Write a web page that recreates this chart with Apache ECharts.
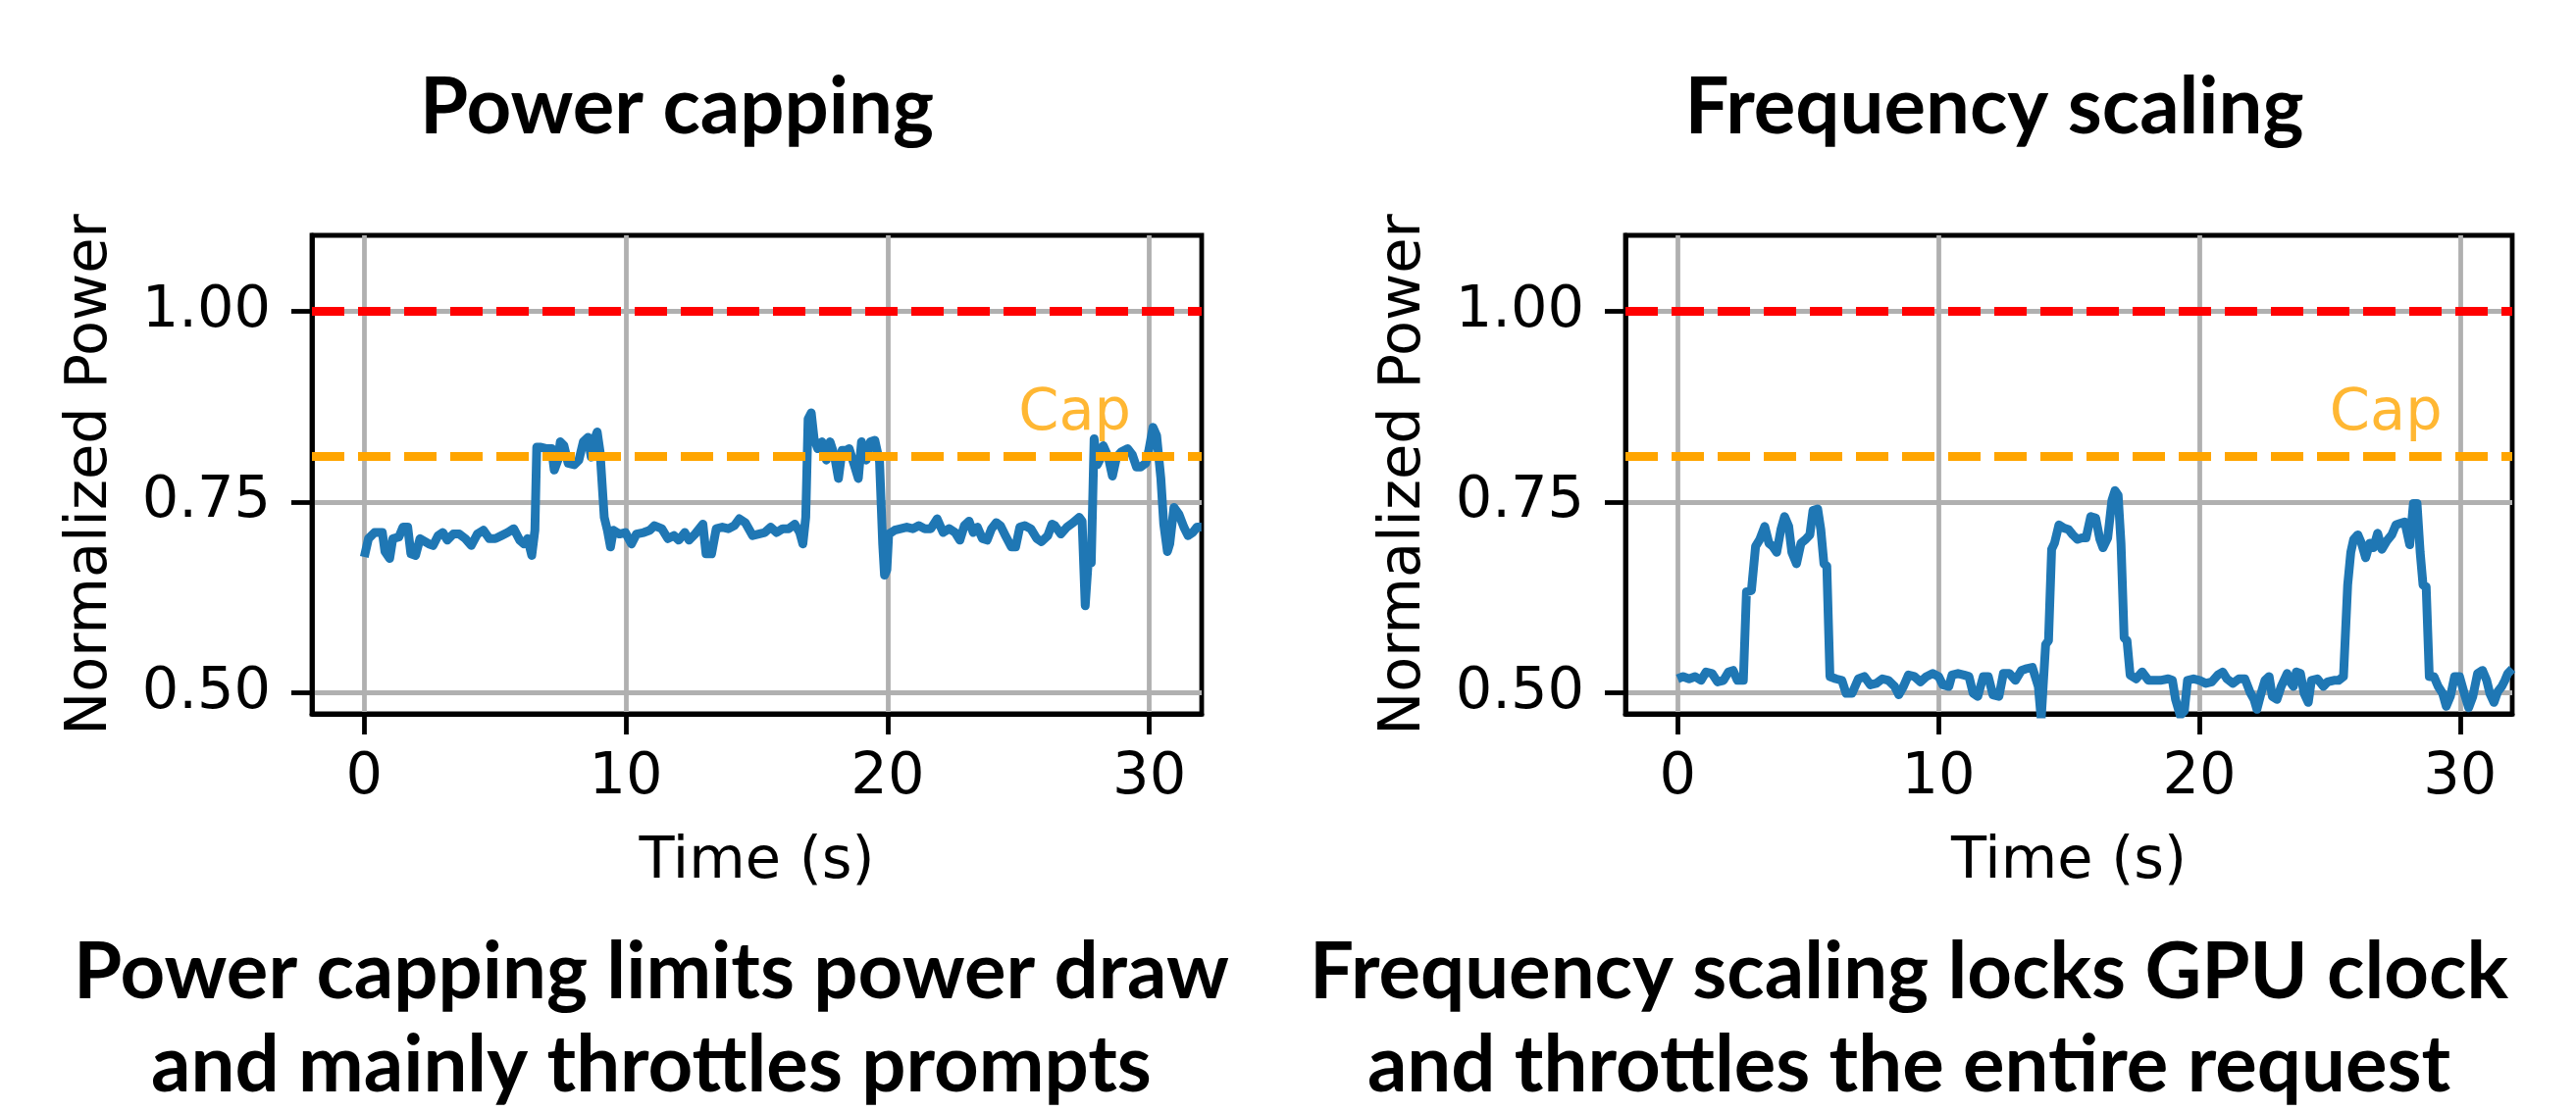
<!DOCTYPE html>
<html>
<head>
<meta charset="utf-8">
<script src="https://cdn.jsdelivr.net/npm/echarts@6/dist/echarts.min.js"></script>
<style>
  html, body { margin: 0; padding: 0; background: #fff; }
  #chart { width: 2626px; height: 1134px; }
</style>
</head>
<body>
<div id="chart"></div>
<script>
// power trace under a power cap, [time (s), normalized power]
const powerCapTrace = [
  [0.00, 0.678], [0.16, 0.702], [0.39, 0.710], [0.69, 0.710], [0.79, 0.685], [0.97, 0.676], [1.09, 0.702], [1.32, 0.704],
  [1.48, 0.717], [1.66, 0.717], [1.78, 0.682], [1.96, 0.680], [2.13, 0.702], [2.47, 0.695], [2.63, 0.693], [2.82, 0.706],
  [3.00, 0.710], [3.17, 0.700], [3.40, 0.708], [3.63, 0.708], [3.86, 0.702], [4.09, 0.693], [4.32, 0.708], [4.55, 0.713],
  [4.78, 0.702], [5.01, 0.702], [5.25, 0.706], [5.48, 0.710], [5.71, 0.715], [5.94, 0.700], [6.10, 0.695], [6.24, 0.702],
  [6.40, 0.680], [6.52, 0.713], [6.59, 0.822], [6.75, 0.822], [6.98, 0.820], [7.16, 0.820], [7.26, 0.792], [7.40, 0.805],
  [7.49, 0.829], [7.63, 0.824], [7.79, 0.801], [8.02, 0.799], [8.20, 0.805], [8.37, 0.829], [8.55, 0.835], [8.67, 0.809],
  [8.78, 0.831], [8.90, 0.842], [9.01, 0.816], [9.17, 0.730], [9.29, 0.713], [9.41, 0.691], [9.52, 0.713], [9.75, 0.708],
  [9.98, 0.710], [10.21, 0.695], [10.40, 0.708], [10.68, 0.710], [10.91, 0.713], [11.09, 0.719], [11.37, 0.715], [11.60, 0.702],
  [11.83, 0.706], [12.02, 0.700], [12.25, 0.710], [12.41, 0.700], [12.64, 0.708], [12.94, 0.721], [13.06, 0.682], [13.27, 0.682],
  [13.45, 0.715], [13.68, 0.717], [13.91, 0.715], [14.14, 0.719], [14.33, 0.728], [14.56, 0.723], [14.84, 0.706], [15.07, 0.708],
  [15.30, 0.710], [15.53, 0.717], [15.76, 0.710], [15.99, 0.715], [16.22, 0.715], [16.45, 0.721], [16.64, 0.710], [16.76, 0.695],
  [16.87, 0.730], [16.96, 0.859], [17.08, 0.867], [17.19, 0.833], [17.33, 0.820], [17.49, 0.829], [17.66, 0.805], [17.80, 0.829],
  [17.96, 0.812], [18.12, 0.781], [18.26, 0.818], [18.42, 0.818], [18.53, 0.820], [18.72, 0.799], [18.88, 0.781], [19.00, 0.829],
  [19.18, 0.805], [19.34, 0.829], [19.51, 0.831], [19.69, 0.803], [19.81, 0.695], [19.88, 0.654], [19.97, 0.661], [20.04, 0.708],
  [20.27, 0.713], [20.50, 0.715], [20.73, 0.717], [20.96, 0.715], [21.19, 0.719], [21.42, 0.715], [21.65, 0.715], [21.89, 0.728],
  [22.12, 0.710], [22.35, 0.715], [22.58, 0.710], [22.76, 0.700], [22.93, 0.719], [23.11, 0.725], [23.27, 0.710], [23.43, 0.717],
  [23.62, 0.702], [23.80, 0.700], [23.97, 0.715], [24.15, 0.723], [24.31, 0.719], [24.50, 0.706], [24.73, 0.691], [24.89, 0.691],
  [25.05, 0.717], [25.24, 0.719], [25.47, 0.715], [25.70, 0.702], [25.88, 0.698], [26.12, 0.706], [26.28, 0.721], [26.39, 0.719],
  [26.62, 0.708], [26.85, 0.717], [27.09, 0.723], [27.32, 0.730], [27.43, 0.725], [27.55, 0.614], [27.66, 0.670], [27.78, 0.670],
  [27.89, 0.833], [28.01, 0.799], [28.13, 0.807], [28.24, 0.824], [28.43, 0.809], [28.59, 0.784], [28.75, 0.809], [28.93, 0.816],
  [29.17, 0.820], [29.35, 0.812], [29.51, 0.796], [29.67, 0.796], [29.86, 0.801], [29.97, 0.816], [30.14, 0.848], [30.28, 0.837],
  [30.44, 0.781], [30.55, 0.721], [30.69, 0.685], [30.78, 0.695], [30.94, 0.743], [31.13, 0.734], [31.32, 0.717], [31.48, 0.706],
  [31.66, 0.710], [31.82, 0.717], [31.99, 0.717]
]
// power trace with a locked GPU clock
const freqScaleTrace = [
  [0.00, 0.518], [0.21, 0.521], [0.44, 0.518], [0.67, 0.521], [0.90, 0.516], [1.09, 0.527], [1.32, 0.525], [1.53, 0.514],
  [1.76, 0.516], [1.95, 0.527], [2.13, 0.529], [2.29, 0.516], [2.52, 0.516], [2.64, 0.632], [2.83, 0.634], [2.99, 0.692],
  [3.15, 0.701], [3.34, 0.718], [3.50, 0.696], [3.64, 0.692], [3.80, 0.684], [3.96, 0.714], [4.10, 0.731], [4.26, 0.718],
  [4.38, 0.684], [4.56, 0.669], [4.73, 0.696], [4.91, 0.701], [5.07, 0.707], [5.19, 0.739], [5.37, 0.741], [5.49, 0.714],
  [5.61, 0.669], [5.72, 0.666], [5.84, 0.521], [6.07, 0.518], [6.30, 0.516], [6.46, 0.499], [6.69, 0.499], [6.93, 0.518],
  [7.16, 0.521], [7.39, 0.510], [7.62, 0.512], [7.85, 0.518], [8.08, 0.516], [8.32, 0.508], [8.48, 0.497], [8.66, 0.508],
  [8.85, 0.523], [9.08, 0.521], [9.31, 0.514], [9.54, 0.521], [9.78, 0.525], [10.01, 0.521], [10.17, 0.510], [10.40, 0.508],
  [10.52, 0.523], [10.75, 0.525], [10.98, 0.523], [11.17, 0.521], [11.33, 0.499], [11.51, 0.495], [11.72, 0.521], [11.91, 0.521],
  [12.09, 0.497], [12.32, 0.495], [12.49, 0.525], [12.72, 0.525], [12.95, 0.516], [13.18, 0.529], [13.34, 0.531], [13.60, 0.533],
  [13.71, 0.521], [13.83, 0.508], [13.94, 0.465], [14.11, 0.563], [14.22, 0.568], [14.34, 0.688], [14.45, 0.696], [14.62, 0.720],
  [14.80, 0.716], [14.99, 0.714], [15.15, 0.707], [15.33, 0.701], [15.50, 0.703], [15.66, 0.703], [15.84, 0.731], [16.03, 0.729],
  [16.19, 0.701], [16.31, 0.690], [16.49, 0.703], [16.65, 0.752], [16.77, 0.765], [16.89, 0.759], [17.00, 0.696], [17.12, 0.572],
  [17.23, 0.568], [17.35, 0.523], [17.58, 0.518], [17.81, 0.527], [18.05, 0.516], [18.28, 0.516], [18.51, 0.516], [18.81, 0.518],
  [18.97, 0.516], [19.09, 0.491], [19.27, 0.470], [19.43, 0.476], [19.55, 0.516], [19.78, 0.518], [20.01, 0.516], [20.25, 0.512],
  [20.48, 0.514], [20.71, 0.523], [20.90, 0.527], [21.06, 0.518], [21.29, 0.512], [21.52, 0.518], [21.75, 0.518], [21.94, 0.501],
  [22.10, 0.491], [22.21, 0.478], [22.37, 0.499], [22.52, 0.516], [22.68, 0.521], [22.80, 0.495], [22.98, 0.491], [23.14, 0.508],
  [23.37, 0.525], [23.49, 0.514], [23.61, 0.508], [23.72, 0.527], [23.88, 0.525], [24.02, 0.499], [24.18, 0.487], [24.30, 0.516],
  [24.53, 0.518], [24.76, 0.508], [24.92, 0.514], [25.16, 0.516], [25.34, 0.516], [25.53, 0.521], [25.69, 0.641], [25.81, 0.684],
  [25.92, 0.701], [26.08, 0.707], [26.22, 0.696], [26.38, 0.677], [26.54, 0.696], [26.68, 0.690], [26.84, 0.709], [27.00, 0.688],
  [27.19, 0.699], [27.38, 0.707], [27.54, 0.720], [27.70, 0.722], [27.88, 0.724], [28.07, 0.694], [28.21, 0.748], [28.35, 0.748],
  [28.47, 0.684], [28.58, 0.641], [28.70, 0.639], [28.82, 0.521], [29.00, 0.521], [29.16, 0.508], [29.33, 0.499], [29.47, 0.482],
  [29.63, 0.495], [29.79, 0.521], [29.98, 0.521], [30.16, 0.499], [30.33, 0.480], [30.49, 0.495], [30.67, 0.525], [30.86, 0.529],
  [31.02, 0.516], [31.14, 0.499], [31.30, 0.487], [31.44, 0.501], [31.60, 0.508], [31.72, 0.516], [31.83, 0.525], [32.00, 0.531]
]
const peakLevel = 1.0
const capLevel = 0.814
const capLabelAt = [25, 0.845]
const xTicks = [0, 10, 20, 30]
const yTicks = [0.5, 0.75, 1.0]
const panelTitles = ['Power capping', 'Frequency scaling']
const panelCaptions = [
  ['Power capping limits power draw', 'and mainly throttles prompts'],
  ['Frequency scaling locks GPU clock', 'and throttles the entire request']
]

const tickFont = 'DejaVu Sans'
const headFont = 'Lato'
const grids = [
  {left: 318, top: 240, width: 907, height: 488, show: true, borderColor: '#000', borderWidth: 4.8},
  {left: 1657, top: 240, width: 904, height: 488, show: true, borderColor: '#000', borderWidth: 4.8}
]

// scale a bold heading so it spans the same width as in the figure
function fitSize (text, targetWidth) {
  let ctx = document.createElement('canvas').getContext('2d')
  ctx.font = 'bold 100px ' + headFont
  return 100 * targetWidth / ctx.measureText(text).width
}

function xAxisFor (i) {
  return {
    type: 'value',
    gridIndex: i,
    min: -2,
    max: 32,
    name: 'Time (s)',
    nameLocation: 'middle',
    nameGap: 122,
    nameTextStyle: {fontFamily: tickFont, fontSize: 59, color: '#000'},
    axisLine: {show: true, onZero: false, lineStyle: {color: '#000', width: 4.8}},
    axisTick: {show: true, length: 21, customValues: xTicks, lineStyle: {color: '#000', width: 4.8}},
    axisLabel: {customValues: xTicks, margin: 36, fontFamily: tickFont, fontSize: 59, color: '#000'},
    splitLine: {show: true, lineStyle: {color: '#b0b0b0', width: 4.8}}
  }
}

function yAxisFor (i) {
  return {
    type: 'value',
    gridIndex: i,
    min: 0.472,
    max: 1.1,
    name: 'Normalized Power',
    nameLocation: 'middle',
    nameGap: 196,
    nameRotate: 90,
    nameTextStyle: {fontFamily: tickFont, fontSize: 59, color: '#000'},
    axisLine: {show: true, onZero: false, lineStyle: {color: '#000', width: 4.8}},
    axisTick: {show: true, length: 21, customValues: yTicks, lineStyle: {color: '#000', width: 4.8}},
    axisLabel: {
      customValues: yTicks,
      margin: 42,
      fontFamily: tickFont,
      fontSize: 59,
      color: '#000',
      formatter: (v) => v.toFixed(2)
    },
    splitLine: {show: true, lineStyle: {color: '#b0b0b0', width: 4.8}}
  }
}

function seriesFor (i, trace) {
  return [
    {
      type: 'line',
      xAxisIndex: i,
      yAxisIndex: i,
      data: trace,
      symbol: 'none',
      silent: true,
      lineStyle: {color: '#1f77b4', width: 9, join: 'round'},
      markLine: {
        silent: true,
        symbol: 'none',
        label: {show: false},
        data: [
          {yAxis: peakLevel, lineStyle: {color: '#ff0000', width: 9, type: [33, 14]}},
          {yAxis: capLevel, lineStyle: {color: '#ffa500', width: 9, type: [33, 14]}}
        ]
      }
    },
    {
      type: 'scatter',
      xAxisIndex: i,
      yAxisIndex: i,
      data: [capLabelAt],
      symbolSize: 0.1,
      silent: true,
      label: {
        show: true,
        formatter: 'Cap',
        position: [0, 0],
        align: 'left',
        verticalAlign: 'middle',
        offset: [0, -15],
        fontFamily: tickFont,
        fontSize: 59,
        color: '#ffa500'
      }
    }
  ]
}

// titles above and two-line captions below each panel
const headSize = fitSize(panelCaptions[0][0], 1178)
const titleCenters = [690, 2033]
const captionCenters = [664, 1946]
const texts = []
function headText (text, cx, baseline) {
  return {
    type: 'text',
    x: cx,
    y: baseline - 0.387 * headSize,
    style: {
      text: text,
      font: 'bold ' + headSize + 'px ' + headFont,
      fill: '#000',
      textAlign: 'center',
      textVerticalAlign: 'middle',
      align: 'center',
      verticalAlign: 'middle'
    }
  }
}
for (let i = 0; i < 2; i++) {
  texts.push(headText(panelTitles[i], titleCenters[i], 141))
  texts.push(headText(panelCaptions[i][0], captionCenters[i], 1023))
  texts.push(headText(panelCaptions[i][1], captionCenters[i], 1118))
}

let myChart = echarts.init(document.getElementById('chart'))
myChart.setOption({
  animation: false,
  backgroundColor: '#fff',
  grid: grids,
  xAxis: [xAxisFor(0), xAxisFor(1)],
  yAxis: [yAxisFor(0), yAxisFor(1)],
  series: seriesFor(0, powerCapTrace).concat(seriesFor(1, freqScaleTrace)),
  graphic: texts
})
</script>
</body>
</html>
